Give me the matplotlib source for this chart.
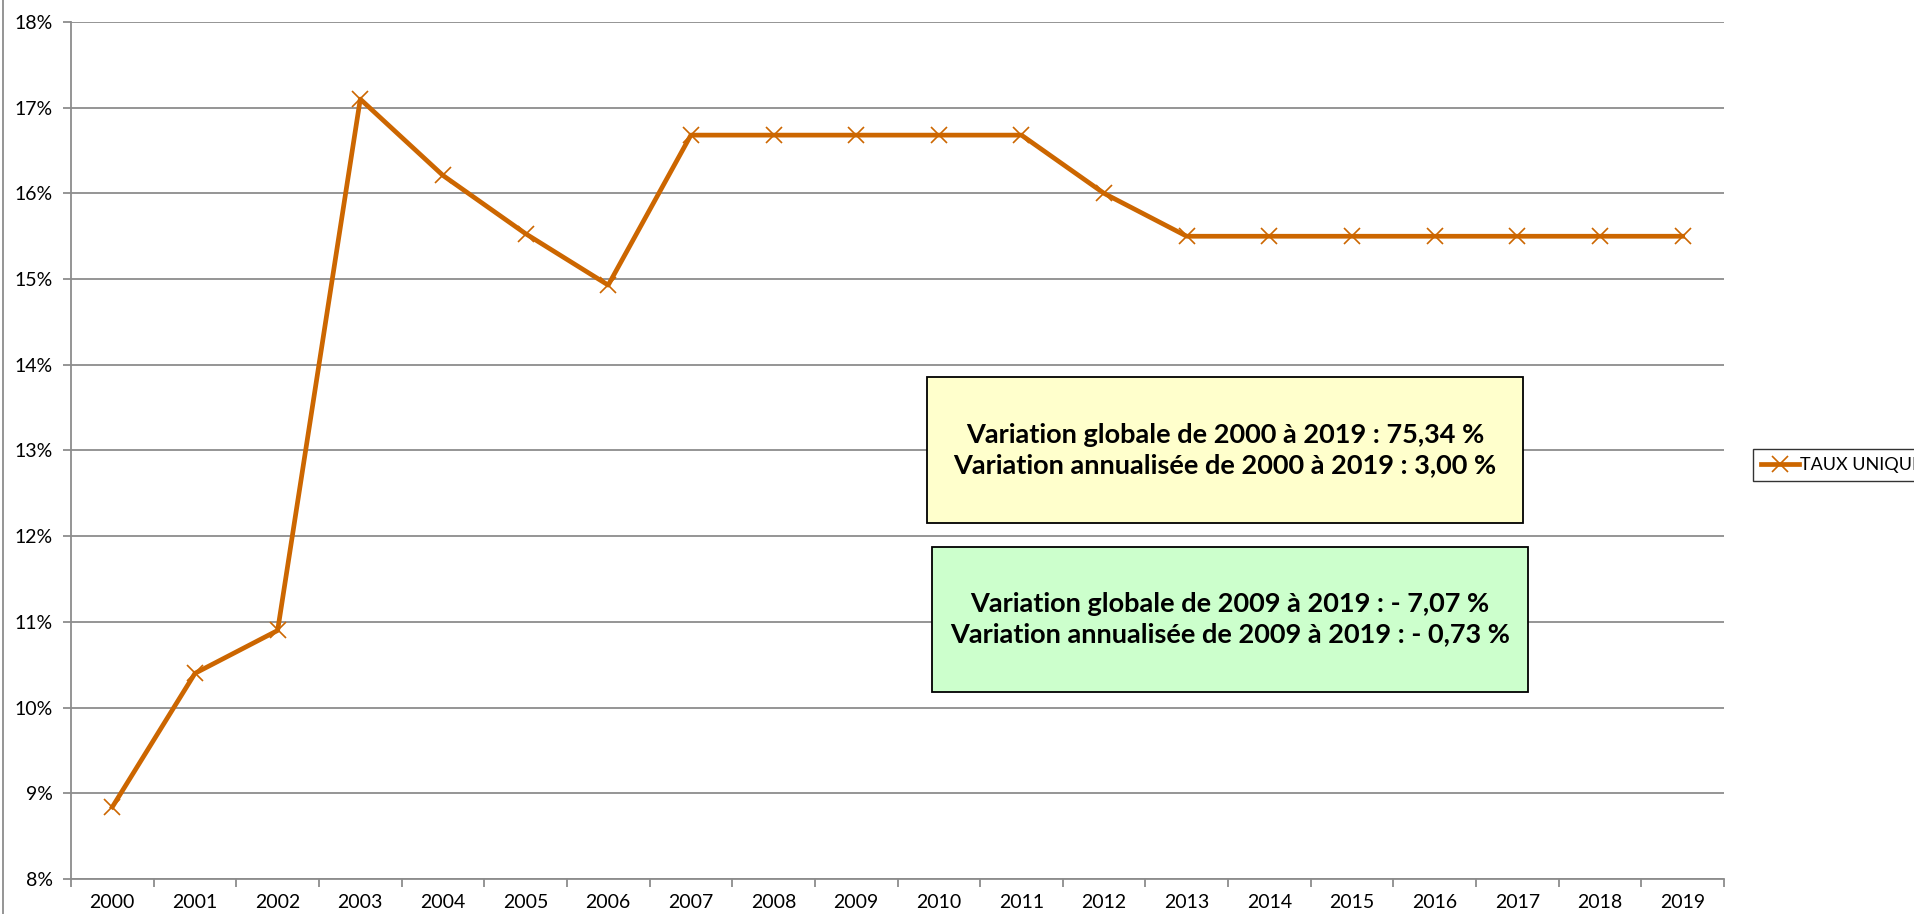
import matplotlib
matplotlib.use("Agg")
import matplotlib.pyplot as plt
from matplotlib.patches import Rectangle
from matplotlib.lines import Line2D

plt.rcParams['font.family'] = ['Lato', 'DejaVu Sans']

# data
years = [str(y) for y in range(2000, 2020)]
taux = [8.84, 10.40, 10.90, 17.10, 16.21, 15.53, 14.93, 16.68, 16.68, 16.68,
        16.68, 16.68, 16.00, 15.50, 15.50, 15.50, 15.50, 15.50, 15.50, 15.50]
serie_label = "TAUX UNIQUE"
yticks = list(range(8, 19))
box1_lines = ["Variation globale de 2000 à 2019 : 75,34 %",
              "Variation annualisée de 2000 à 2019 : 3,00 %"]
box2_lines = ["Variation globale de 2009 à 2019 : - 7,07 %",
              "Variation annualisée de 2009 à 2019 : - 0,73 %"]

W, H = 1915, 914
fig = plt.figure(figsize=(W / 100, H / 100), dpi=100)
ax = fig.add_axes([71 / W, 1 - 879 / H, (1724 - 71) / W, (879 - 22) / H])

orange = '#CC6600'
grey = '#8c8c8c'

x = list(range(len(years)))
ax.plot(x, taux, color=orange, lw=3.4, marker='x', markersize=12,
        markeredgewidth=1.2, solid_joinstyle='round', zorder=3)

ax.set_xlim(-0.5, len(years) - 0.5)
ax.set_ylim(8, 18)
ax.set_yticks(yticks)
ax.set_yticklabels([f"{t}%" for t in yticks])
ax.yaxis.grid(True, color=grey, lw=1.3)
ax.set_axisbelow(True)

# category ticks between years, labels centred
ax.set_xticks([i - 0.5 for i in range(len(years) + 1)])
ax.set_xticklabels([])
ax.set_xticks(x, minor=True)
ax.set_xticklabels(years, minor=True)
ax.tick_params(axis='x', which='major', length=6, color=grey, width=1.3, direction='out')
ax.tick_params(axis='x', which='minor', length=0, pad=11, labelsize=14)
ax.tick_params(axis='y', length=6, color=grey, width=1.3, pad=7, labelsize=14)

for s in ['top', 'right']:
    ax.spines[s].set_visible(False)
for s in ['left', 'bottom']:
    ax.spines[s].set_color(grey)
    ax.spines[s].set_linewidth(1.3)

# annotation boxes
def text_box(x0, y0, x1, y1, color, lines):
    ax.add_patch(Rectangle((x0, y0), x1 - x0, y1 - y0, transform=ax.transAxes,
                           facecolor=color, edgecolor='black', lw=1.3, zorder=4,
                           clip_on=False))
    ax.text((x0 + x1) / 2, (y0 + y1) / 2, "\n".join(lines), transform=ax.transAxes,
            ha='center', va='center', fontsize=19.5, fontweight='bold',
            linespacing=1.3, zorder=5)

def ax_x(px):
    return (px - 71) / (1724 - 71)

def ax_y(py):
    return (879 - py) / (879 - 22)

text_box(ax_x(927), ax_y(523), ax_x(1523), ax_y(377), '#FFFFCC', box1_lines)
text_box(ax_x(932), ax_y(692), ax_x(1528), ax_y(547), '#CCFFCC', box2_lines)

# legend
handle = Line2D([], [], color=orange, lw=3.4, marker='x', markersize=12,
                markeredgewidth=1.2)
leg = fig.legend([handle], [serie_label], loc='center left',
                 bbox_to_anchor=(1744 / W, 1 - 465 / H), fontsize=13,
                 frameon=True, fancybox=False, edgecolor='black',
                 handlelength=2.1, handletextpad=0.05, borderpad=0.45)
leg.get_frame().set_linewidth(1.0)

# chart area border on the left
fig.add_artist(Line2D([3 / W, 3 / W], [0, 1], color=grey, lw=1.3))

fig.savefig("out.png", dpi=100)
